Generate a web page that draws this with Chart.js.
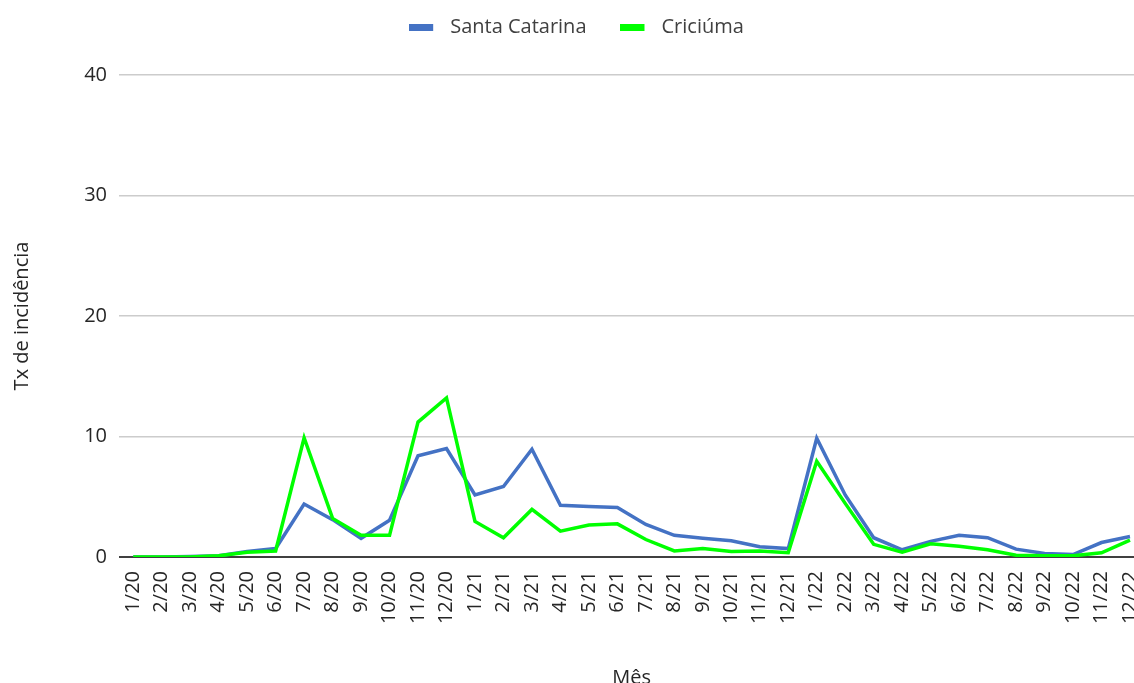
<!DOCTYPE html>
<html>
<head>
<meta charset="utf-8">
<script src="https://cdn.jsdelivr.net/npm/chart.js@4/dist/chart.umd.min.js"></script>
<style>
  html, body { margin: 0; padding: 0; background: #ffffff; overflow: hidden; }
  #wrap { width: 1134px; height: 683px; overflow: hidden; position: relative; }
  canvas { position: absolute; left: 0; top: 0; }
</style>
</head>
<body>
<div id="wrap"><canvas id="chart" width="1168" height="694"></canvas></div>
<script>
const meses = ['1/20','2/20','3/20','4/20','5/20','6/20','7/20','8/20','9/20','10/20','11/20','12/20',
               '1/21','2/21','3/21','4/21','5/21','6/21','7/21','8/21','9/21','10/21','11/21','12/21',
               '1/22','2/22','3/22','4/22','5/22','6/22','7/22','8/22','9/22','10/22','11/22','12/22'];

const santaCatarina = [0, 0, 0.05, 0.1, 0.45, 0.7, 4.4, 3.1, 1.55, 3.05, 8.4, 9.0,
                       5.15, 5.85, 8.95, 4.3, 4.2, 4.1, 2.7, 1.8, 1.55, 1.35, 0.85, 0.7,
                       9.85, 5.15, 1.6, 0.6, 1.3, 1.8, 1.6, 0.65, 0.3, 0.2, 1.2, 1.7];

const criciuma = [0, 0, 0, 0.1, 0.4, 0.5, 9.9, 3.2, 1.8, 1.8, 11.2, 13.2,
                  2.95, 1.6, 3.95, 2.15, 2.65, 2.75, 1.45, 0.5, 0.7, 0.45, 0.5, 0.35,
                  7.95, 4.45, 1.05, 0.4, 1.1, 0.9, 0.6, 0.15, 0.1, 0.1, 0.35, 1.4];

const yTicks = [0, 10, 20, 30, 40];

const FONT = "'Open Sans', 'Noto Sans', sans-serif";
const TEXT = '#262626';

// Legend marker: a 24x7 colour bar followed by a small blank gap before the text.
function legendMarker(color) {
  const c = document.createElement('canvas');
  c.width = 31; c.height = 7;
  const g = c.getContext('2d');
  g.fillStyle = color;
  g.fillRect(0, 0, 24, 7);
  return c;
}

// Keeps a fixed band between the legend and the plot area.
const legendBand = {
  id: 'legendBand',
  beforeLayout(chart) {
    const lg = chart.legend;
    if (lg && !lg._banded) {
      const fit = lg.fit;
      lg.fit = function () { fit.call(this); this.height = 92; };
      lg._banded = true;
    }
  }
};

new Chart(document.getElementById('chart'), {
  type: 'line',
  data: {
    labels: meses,
    datasets: [
      { label: 'Santa Catarina', data: santaCatarina, borderColor: '#4472C4', backgroundColor: '#4472C4',
        borderWidth: 3.5, pointRadius: 0, tension: 0, order: 1 },
      { label: 'Criciúma', data: criciuma, borderColor: '#00FF00', backgroundColor: '#00FF00',
        borderWidth: 3.5, pointRadius: 0, tension: 0, order: 0 }
    ]
  },
  plugins: [legendBand],
  options: {
    responsive: false,
    animation: false,
    layout: { padding: { top: -17, left: -14, right: 1, bottom: 0 } },
    plugins: {
      tooltip: { enabled: false },
      legend: {
        position: 'top',
        labels: {
          font: { family: FONT, size: 20 },
          color: '#404040',
          usePointStyle: true,
          pointStyleWidth: 31,
          boxHeight: 7,
          padding: 34,
          sort: (a, b) => a.datasetIndex - b.datasetIndex,
          generateLabels: (chart) => Chart.defaults.plugins.legend.labels.generateLabels(chart)
            .map(item => Object.assign(item, {
              lineWidth: 0,
              pointStyle: legendMarker(chart.data.datasets[item.datasetIndex].borderColor)
            }))
        }
      }
    },
    scales: {
      x: {
        offset: true,
        grid: { display: false, drawTicks: false },
        border: { display: false },
        ticks: {
          autoSkip: false, minRotation: 90, maxRotation: 90, padding: 14,
          font: { family: FONT, size: 20 }, color: TEXT
        },
        title: { display: true, text: 'Mês', font: { family: FONT, size: 20 }, color: TEXT },
        afterFit: (scale) => { scale.height = 137; }
      },
      y: {
        min: 0, max: 40,
        afterBuildTicks: (scale) => { scale.ticks = yTicks.map(v => ({ value: v })); },
        grid: {
          drawTicks: false,
          color: (ctx) => ctx.tick && ctx.tick.value === 0 ? '#404040' : '#cccccc',
          lineWidth: (ctx) => ctx.tick && ctx.tick.value === 0 ? 2 : 1.5
        },
        border: { display: false },
        ticks: { padding: 12, font: { family: FONT, size: 20 }, color: TEXT },
        title: { display: true, text: 'Tx de incidência', font: { family: FONT, size: 20 }, color: TEXT,
                 padding: { top: 24, bottom: 4 } },
        afterFit: (scale) => { scale.width = 133; }
      }
    }
  }
});
</script>
</body>
</html>
